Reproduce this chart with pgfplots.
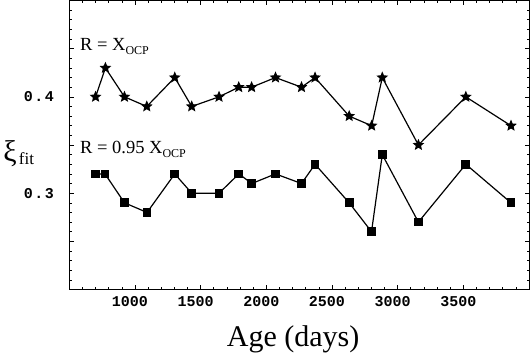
\documentclass[border=0pt]{standalone}
\usepackage{fontspec}
\setmainfont{Liberation Serif}
\newfontfamily\tickfont{Liberation Mono}
\usepackage{pgfplots}
\pgfplotsset{compat=1.18}

% filled five-pointed star
\pgfdeclareplotmark{fstar}{%
  \pgfpathmoveto{\pgfpointpolar{90}{\pgfplotmarksize}}%
  \pgfpathlineto{\pgfpointpolar{126}{0.45*\pgfplotmarksize}}%
  \pgfpathlineto{\pgfpointpolar{162}{\pgfplotmarksize}}%
  \pgfpathlineto{\pgfpointpolar{198}{0.45*\pgfplotmarksize}}%
  \pgfpathlineto{\pgfpointpolar{234}{\pgfplotmarksize}}%
  \pgfpathlineto{\pgfpointpolar{270}{0.45*\pgfplotmarksize}}%
  \pgfpathlineto{\pgfpointpolar{306}{\pgfplotmarksize}}%
  \pgfpathlineto{\pgfpointpolar{342}{0.45*\pgfplotmarksize}}%
  \pgfpathlineto{\pgfpointpolar{18}{\pgfplotmarksize}}%
  \pgfpathlineto{\pgfpointpolar{54}{0.45*\pgfplotmarksize}}%
  \pgfpathclose
  \pgfusepathqfillstroke
}

\begin{document}
\begin{tikzpicture}
\begin{axis}[
  name=ax,
  scale only axis, width=459.7pt, height=289pt,
  xmin=500, xmax=4000, ymin=0.2, ymax=0.5,
  xtick={500,1000,1500,2000,2500,3000,3500,4000},
  xticklabels={,1000,1500,2000,2500,3000,3500,},
  ytick={0.2,0.25,0.3,0.35,0.4,0.45,0.5},
  yticklabels={,,0\kern1.5pt.\kern1.5pt3,,0\kern1.5pt.\kern1.5pt4,,},
  minor x tick num=4, minor y tick num=4,
  tick align=inside, xtick pos=both, ytick pos=both,
  major tick length=4.5pt, minor tick length=2.5pt,
  tick style={black, line width=0.6pt},
  axis line style={line width=0.8pt},
  ticklabel style={font=\tickfont\bfseries\fontsize{15}{15}\selectfont},
  xticklabel style={xshift=-5pt, yshift=-3.5pt},
  yticklabel style={xshift=-12pt},
  xlabel={Age (days)},
  xlabel style={font=\fontsize{30}{36}\selectfont, at={(rel axis cs:0.5,0)},
    anchor=base, yshift=-57pt, xshift=-6pt},
  ylabel={{\fontsize{30}{30}\selectfont ξ}\hspace{2pt}{\fontsize{17}{17}\selectfont\raisebox{-3pt}{fit}}},
  ylabel style={rotate=-90, at={(rel axis cs:0,0.444)}, anchor=base west,
    xshift=-66pt, inner sep=0pt},
  clip=false,
]
\addplot[black, line width=1.2pt, mark=fstar, mark size=4.6pt] coordinates {
  (700,0.40) (775,0.43) (920,0.40) (1090,0.39) (1303,0.42) (1432,0.39)
  (1640,0.40) (1790,0.41) (1888,0.41) (2070,0.42) (2268,0.41) (2371,0.42)
  (2631,0.38) (2802,0.37) (2883,0.42) (3158,0.35) (3519,0.40) (3863,0.37)
};
\addplot[black, line width=1.2pt, mark=square*, mark size=3.8pt] coordinates {
  (700,0.32) (772,0.32) (920,0.29) (1092,0.28) (1303,0.32) (1432,0.30)
  (1640,0.30) (1791,0.32) (1889,0.31) (2070,0.32) (2268,0.31) (2371,0.33)
  (2631,0.29) (2801,0.26) (2883,0.34) (3158,0.27) (3519,0.33) (3863,0.29)
};
\node[anchor=base west, inner sep=0pt, font=\fontsize{18.5}{18.5}\selectfont]
  at (axis cs:581,0.448) {R = X\raisebox{-4pt}{\fontsize{12}{12}\selectfont OCP}};
\node[anchor=base west, inner sep=0pt, font=\fontsize{18.5}{18.5}\selectfont]
  at (axis cs:581,0.341) {R = 0.95 X\raisebox{-4pt}{\fontsize{12}{12}\selectfont OCP}};
\end{axis}
\pgfresetboundingbox
\path[use as bounding box] (ax.south west) ++(-69.3pt,-64.5pt)
  rectangle ([xshift=2pt,yshift=0.5pt]ax.north east);
\end{tikzpicture}
\end{document}
